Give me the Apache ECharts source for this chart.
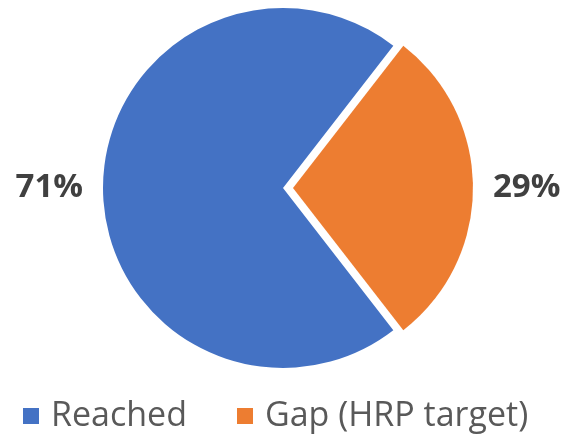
<!DOCTYPE html>
<html>
<head>
<meta charset="utf-8">
<script src="https://cdn.jsdelivr.net/npm/echarts@6/dist/echarts.min.js"></script>
<style>html,body{margin:0;padding:0;background:#fff;}#c{width:564px;height:435px;}</style>
</head>
<body>
<div id="c"></div>
<script>
const categories = ['Reached', 'Gap (HRP target)'];
const values = [71, 29];
const colors = ['#4472C4', '#ED7D31'];

const chart = echarts.init(document.getElementById('c'), null, {renderer: 'canvas'});
chart.setOption({
  animation: false,
  backgroundColor: '#ffffff',
  legend: {
    data: categories,
    left: 18,
    top: 393,
    itemWidth: 16,
    itemHeight: 16,
    itemGap: 50,
    icon: 'rect',
    textStyle: {
      fontFamily: 'Open Sans',
      fontSize: 34,
      color: '#595959',
      lineHeight: 36,
      padding: [0, 0, 0, 7]
    }
  },
  series: [{
    type: 'pie',
    center: [283, 188],
    radius: [0, 180],
    startAngle: -52.2,
    clockwise: true,
    selectedMode: 'single',
    selectedOffset: 10,
    label: {
      show: true,
      position: 'outside',
      formatter: '{d}%',
      fontFamily: 'Open Sans',
      fontWeight: 'bold',
      fontSize: 33,
      color: '#404040',
      padding: [10, 0, 0, 0]
    },
    labelLine: { show: false, length: 8, length2: 7 },
    emphasis: { disabled: true },
    data: categories.map((name, i) => ({
      name: name,
      value: values[i],
      selected: i === 1,
      itemStyle: { color: colors[i] }
    }))
  }]
});
</script>
</body>
</html>
